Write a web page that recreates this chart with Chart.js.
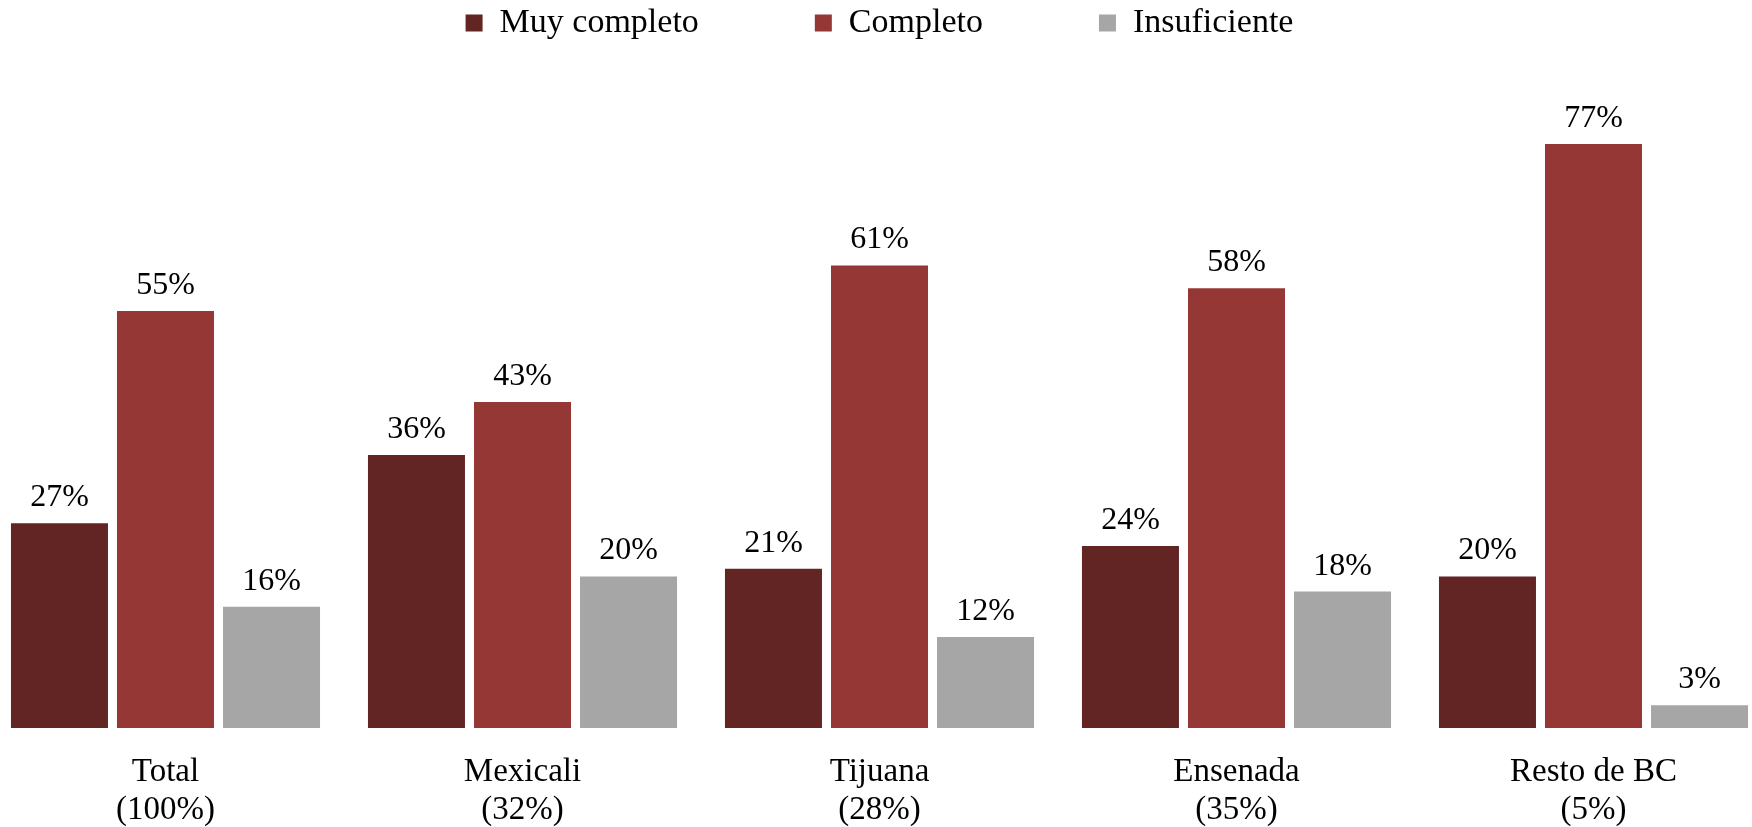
<!DOCTYPE html>
<html>
<head>
<meta charset="utf-8">
<script src="https://cdn.jsdelivr.net/npm/chart.js@4/dist/chart.umd.min.js"></script>
<style>
  html, body { margin: 0; padding: 0; background: #ffffff; overflow: hidden; }
  body { width: 1752px; height: 827px; position: relative; font-family: 'Liberation Serif', serif; }
  /* chart area in the reference runs a bit past the page edges, so the box is offset */
  #wrap { position: absolute; left: -13px; top: -110px; width: 1785px; height: 968px; }
</style>
</head>
<body>
<div id="wrap"><canvas id="grade-chart"></canvas></div>
<script>
// Categories (two-line tick labels)
const categories = [
  ['Total', '(100%)'],
  ['Mexicali', '(32%)'],
  ['Tijuana', '(28%)'],
  ['Ensenada', '(35%)'],
  ['Resto de BC', '(5%)']
];

// Series values (percent)
const muyCompleto = [27, 36, 21, 24, 20];
const completo = [55, 43, 61, 58, 77];
const insuficiente = [16, 20, 12, 18, 3];

const seriesNames = ['Muy completo', 'Completo', 'Insuficiente'];
const seriesColors = ['#632523', '#953735', '#a6a6a6'];

const FONT = "'Liberation Serif', 'Times New Roman', serif";

// Draws the percent above each bar
const valueLabels = {
  id: 'valueLabels',
  afterDatasetsDraw(chart) {
    const ctx = chart.ctx;
    ctx.save();
    ctx.font = '32px ' + FONT;
    ctx.fillStyle = '#000000';
    ctx.textAlign = 'center';
    ctx.textBaseline = 'alphabetic';
    chart.data.datasets.forEach((ds, i) => {
      const meta = chart.getDatasetMeta(i);
      meta.data.forEach((bar, j) => {
        ctx.fillText(ds.data[j] + '%', bar.x, bar.y - 17);
      });
    });
    ctx.restore();
  }
};

function renderChart() {
  const ctx = document.getElementById('grade-chart').getContext('2d');
  return new Chart(ctx, {
    type: 'bar',
    data: {
      labels: categories,
      datasets: [
        { label: seriesNames[0], data: muyCompleto, backgroundColor: seriesColors[0] },
        { label: seriesNames[1], data: completo, backgroundColor: seriesColors[1] },
        { label: seriesNames[2], data: insuficiente, backgroundColor: seriesColors[2] }
      ]
    },
    options: {
      responsive: true,
      maintainAspectRatio: false,
      animation: false,
      categoryPercentage: 0.891,
      barPercentage: 0.915,
      layout: { padding: { left: 0, right: 0, top: 0, bottom: 4 } },
      plugins: {
        legend: {
          position: 'top',
          labels: {
            boxWidth: 17,
            boxHeight: 17,
            padding: 116,
            color: '#000000',
            font: { family: FONT, size: 34 }
          }
        },
        tooltip: { enabled: false }
      },
      scales: {
        x: {
          grid: { display: false, drawTicks: false },
          border: { display: false },
          ticks: {
            color: '#000000',
            padding: 25,
            maxRotation: 0,
            autoSkip: false,
            font: { family: FONT, size: 33, lineHeight: 1.15 }
          }
        },
        y: {
          display: false,
          min: 0,
          max: 89.4
        }
      }
    },
    plugins: [valueLabels]
  });
}

// make sure the serif face is ready before the canvas draws text
Promise.all([
  document.fonts.load("32px 'Liberation Serif'"),
  document.fonts.load("34px 'Liberation Serif'")
]).then(renderChart, renderChart);
</script>
</body>
</html>
